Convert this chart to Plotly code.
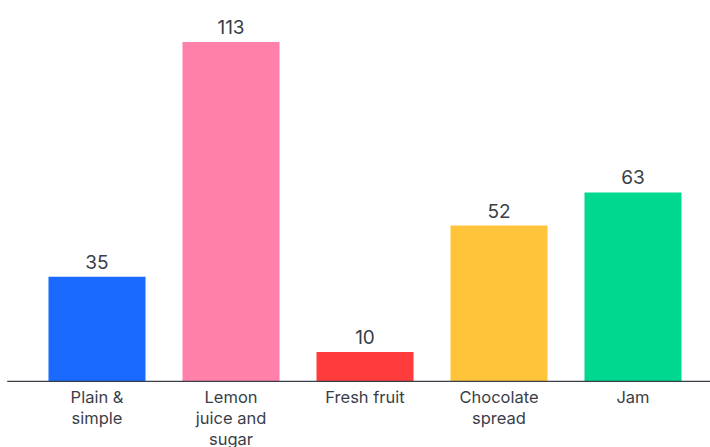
import plotly.graph_objects as go

categories = ["Plain &<br>simple", "Lemon<br>juice and<br>sugar", "Fresh fruit", "Chocolate<br>spread", "Jam"]
values = [35, 113, 10, 52, 63]
colors = ["#1a6aff", "#ff80a9", "#ff3c3c", "#ffc439", "#00d78f"]

fig = go.Figure(go.Bar(
    x=categories, y=values,
    marker=dict(color=colors, line=dict(width=0)),
    text=[str(v) for v in values], textposition="outside",
    textfont=dict(size=19, color="#3a3e48", family="Inter"),
    cliponaxis=False,
))
fig.update_layout(
    width=710, height=447,
    margin=dict(l=30, r=10, t=10, b=65, autoexpand=False),
    paper_bgcolor="white", plot_bgcolor="white",
    bargap=0.276, showlegend=False,
    font=dict(family="Inter", color="#3a3e48"),
    xaxis=dict(showgrid=False, showline=False, ticks="", automargin=False,
               ticklabelstandoff=3, tickfont=dict(size=16.5, color="#3a3e48")),
    yaxis=dict(visible=False, range=[0, 123.6], automargin=False),
    shapes=[dict(type="line", xref="paper", yref="y", x0=-0.034, x1=1.02, y0=0, y1=0,
                 line=dict(color="#3a3e48", width=2.5))],
)
fig.write_html("out.html")
